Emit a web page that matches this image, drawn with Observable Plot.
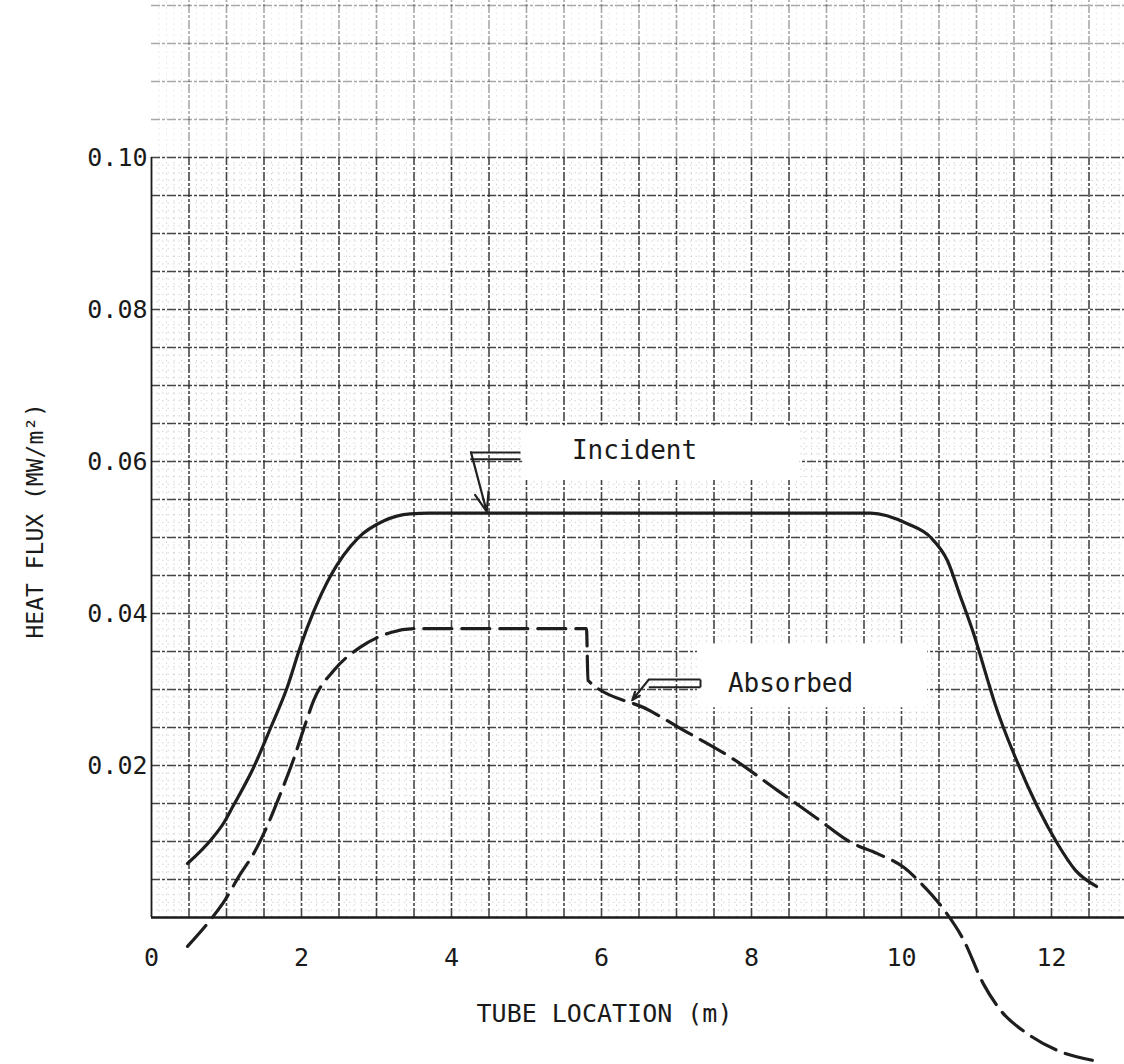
<!DOCTYPE html>
<html>
<head>
<meta charset="utf-8">
<script src="https://cdn.jsdelivr.net/npm/d3@7"></script>
<script src="https://cdn.jsdelivr.net/npm/@observablehq/plot@0.6"></script>
<style>
  html, body { margin: 0; padding: 0; background: #fff; }
  #chart svg { display: block; }
</style>
</head>
<body>
<div id="chart"></div>
<script>
// ---- data ----
const incidentX = [0.48, 0.8, 0.96, 1.09, 1.35, 1.59, 1.81, 1.99, 2.16, 2.39, 2.75, 3.1, 3.45, 3.7, 5, 7, 9, 9.59, 10.08, 10.39, 10.61, 10.79, 10.96, 11.15, 11.23, 11.55, 12.08, 12.32, 12.6];
const incidentY = [0.0071, 0.0103, 0.0124, 0.0147, 0.0195, 0.0250, 0.0303, 0.0358, 0.0402, 0.0450, 0.0499, 0.0522, 0.0531, 0.0532, 0.0532, 0.0532, 0.0532, 0.0532, 0.0518, 0.0500, 0.0470, 0.0421, 0.0374, 0.0312, 0.0286, 0.0203, 0.0097, 0.0062, 0.0041];

const absorbedX = [0.48, 0.81, 0.96, 1.19, 1.35, 1.55, 1.72, 1.89, 2.08, 2.16, 2.43, 2.79, 3.19, 3.52, 4.5, 5.5, 5.80, 5.82, 6.65, 7.05, 7.75, 8.35, 8.88, 9.32, 9.68, 10.03, 10.25, 10.56, 10.83, 11.09, 11.32, 11.68, 12.08, 12.55];
const absorbedY = [-0.0038, 0.0, 0.0020, 0.0058, 0.0082, 0.0122, 0.0163, 0.0207, 0.0263, 0.0285, 0.0325, 0.0356, 0.0375, 0.0380, 0.0380, 0.0380, 0.0380, 0.0312, 0.0272, 0.0249, 0.0209, 0.0167, 0.0130, 0.0099, 0.0084, 0.0066, 0.0046, 0.0011, -0.0030, -0.0087, -0.0122, -0.0153, -0.0175, -0.0188];

const xTicks = [0, 2, 4, 6, 8, 10, 12];
const yTicks = [0.02, 0.04, 0.06, 0.08, 0.10];
const yTickLabels = ["0.02", "0.04", "0.06", "0.08", "0.10"];

const seriesLabels = ["Incident", "Absorbed"];
const labelAt = [{x: 6.44, y: 0.0614}, {x: 8.52, y: 0.0308}];
const labelBoxes = [
  {x1: 4.95, x2: 8.65, y1: 0.0575, y2: 0.0647},
  {x1: 7.28, x2: 10.35, y1: 0.0276, y2: 0.0360}
];
const leaderLines = [
  {x1: 4.25, x2: 4.92, y1: 0.0612, y2: 0.0612},
  {x1: 4.25, x2: 4.92, y1: 0.0603, y2: 0.0603},
  {x1: 6.63, x2: 7.32, y1: 0.0313, y2: 0.0313},
  {x1: 6.63, x2: 7.32, y1: 0.0303, y2: 0.0303},
  {x1: 7.32, x2: 7.32, y1: 0.0303, y2: 0.0313}
];
const leaderArrows = [
  {x1: 4.26, y1: 0.0612, x2: 4.47, y2: 0.0534},
  {x1: 6.63, y1: 0.0313, x2: 6.41, y2: 0.0286}
];

const xTitle = "TUBE LOCATION (m)";
const yTitle = "HEAT FLUX (MW/m²)";

// ---- tables ----
const incident = incidentX.map((x, i) => ({x, y: incidentY[i]}));
const absorbed = absorbedX.map((x, i) => ({x, y: absorbedY[i]}));

// scale geometry (x = 0 at 151px, 75 px per m; y = 0 at 917px, 7600 px per MW/m²)
const W = 1124, H = 1064;
const xDomain = [-151 / 75, (W - 151) / 75];
const yDomain = [-(H - 917) / 7600, 917 / 7600];
const xMax = xDomain[1], yTop = yDomain[1];

const minorX = d3.range(0.1, xMax, 0.1).filter(v => Math.abs(v / 0.5 - Math.round(v / 0.5)) > 1e-6);
const minorY = d3.range(0.001, yTop, 0.001).filter(v => Math.abs(v / 0.005 - Math.round(v / 0.005)) > 1e-6);
const majorX = d3.range(0.5, xMax, 0.5);
const majorY = d3.range(0.005, yTop, 0.005);

const gridMajor = {stroke: "#262626", strokeWidth: 1.6, strokeDasharray: "9,2,3,2"};
const gridMinor = {stroke: "#8a8a8a", strokeWidth: 0.9, strokeDasharray: "1.5,4", strokeOpacity: 0.4};

const chart = Plot.plot({
  width: W,
  height: H,
  margin: 0,
  x: {domain: xDomain, axis: null},
  y: {domain: yDomain, axis: null},
  style: {background: "#fff", fontFamily: "'DejaVu Sans Mono', 'Liberation Mono', monospace", color: "#222"},
  marks: [
    // graph paper
    Plot.ruleX(minorX, {x: d => d, y1: 0, y2: 0.10, ...gridMinor}),
    Plot.ruleY(minorY.filter(v => v <= 0.1001), {y: d => d, x1: 0, x2: xMax, ...gridMinor}),
    Plot.ruleX(majorX, {x: d => d, y1: 0, y2: 0.10, ...gridMajor, strokeOpacity: 0.85}),
    Plot.ruleY(majorY.filter(v => v <= 0.1001), {y: d => d, x1: 0, x2: xMax, ...gridMajor, strokeOpacity: 0.85}),
    // fainter paper above 0.10
    Plot.ruleX(majorX, {x: d => d, y1: 0.10, y2: yTop, ...gridMajor, strokeOpacity: 0.4}),
    Plot.ruleY(majorY.filter(v => v > 0.1001), {y: d => d, x1: 0, x2: xMax, ...gridMajor, strokeOpacity: 0.4}),
    Plot.ruleX(minorX, {x: d => d, y1: 0.10, y2: yTop, ...gridMinor, strokeOpacity: 0.25}),
    // axes
    Plot.ruleY([0], {x1: 0, x2: xMax, stroke: "#1a1a1a", strokeWidth: 2.4}),
    Plot.ruleX([0], {y1: 0, y2: 0.10, stroke: "#1a1a1a", strokeWidth: 1.8}),
    // label boxes (white paste-ups)
    Plot.rect(labelBoxes, {x1: "x1", x2: "x2", y1: "y1", y2: "y2", fill: "#fff"}),
    // curves
    Plot.line(incident, {x: "x", y: "y", curve: "monotone-x", stroke: "#1e1e1e", strokeWidth: 3.2}),
    Plot.line(absorbed, {x: "x", y: "y", curve: "monotone-x", stroke: "#1e1e1e", strokeWidth: 3.2, strokeDasharray: "28,10"}),
    // leaders
    Plot.link(leaderLines, {x1: "x1", y1: "y1", x2: "x2", y2: "y2", stroke: "#222", strokeWidth: 2}),
    Plot.arrow(leaderArrows, {x1: "x1", y1: "y1", x2: "x2", y2: "y2", stroke: "#222", strokeWidth: 2.2, headLength: 14, headAngle: 40}),
    // series labels
    Plot.text(seriesLabels, {x: (d, i) => labelAt[i].x, y: (d, i) => labelAt[i].y, text: d => d, fontSize: 26, fill: "#1a1a1a", textAnchor: "middle"}),
    // tick labels
    Plot.text(xTicks, {x: d => d, y: 0, dy: 40, text: d => String(d), fontSize: 25, fill: "#1a1a1a", textAnchor: "middle"}),
    Plot.text(yTicks, {x: 0, y: d => d, dx: -4, text: (d, i) => yTickLabels[i], fontSize: 25, fill: "#1a1a1a", textAnchor: "end"}),
    // axis titles
    Plot.text([xTitle], {x: 6.04, y: 0, dy: 96, text: d => d, fontSize: 25, fill: "#1a1a1a", textAnchor: "middle"}),
    Plot.text([yTitle], {x: 0, y: 0.0522, dx: -116, rotate: -90, text: d => d, fontSize: 23, fill: "#1a1a1a", textAnchor: "middle"})
  ]
});
document.getElementById("chart").appendChild(chart);
</script>
</body>
</html>
